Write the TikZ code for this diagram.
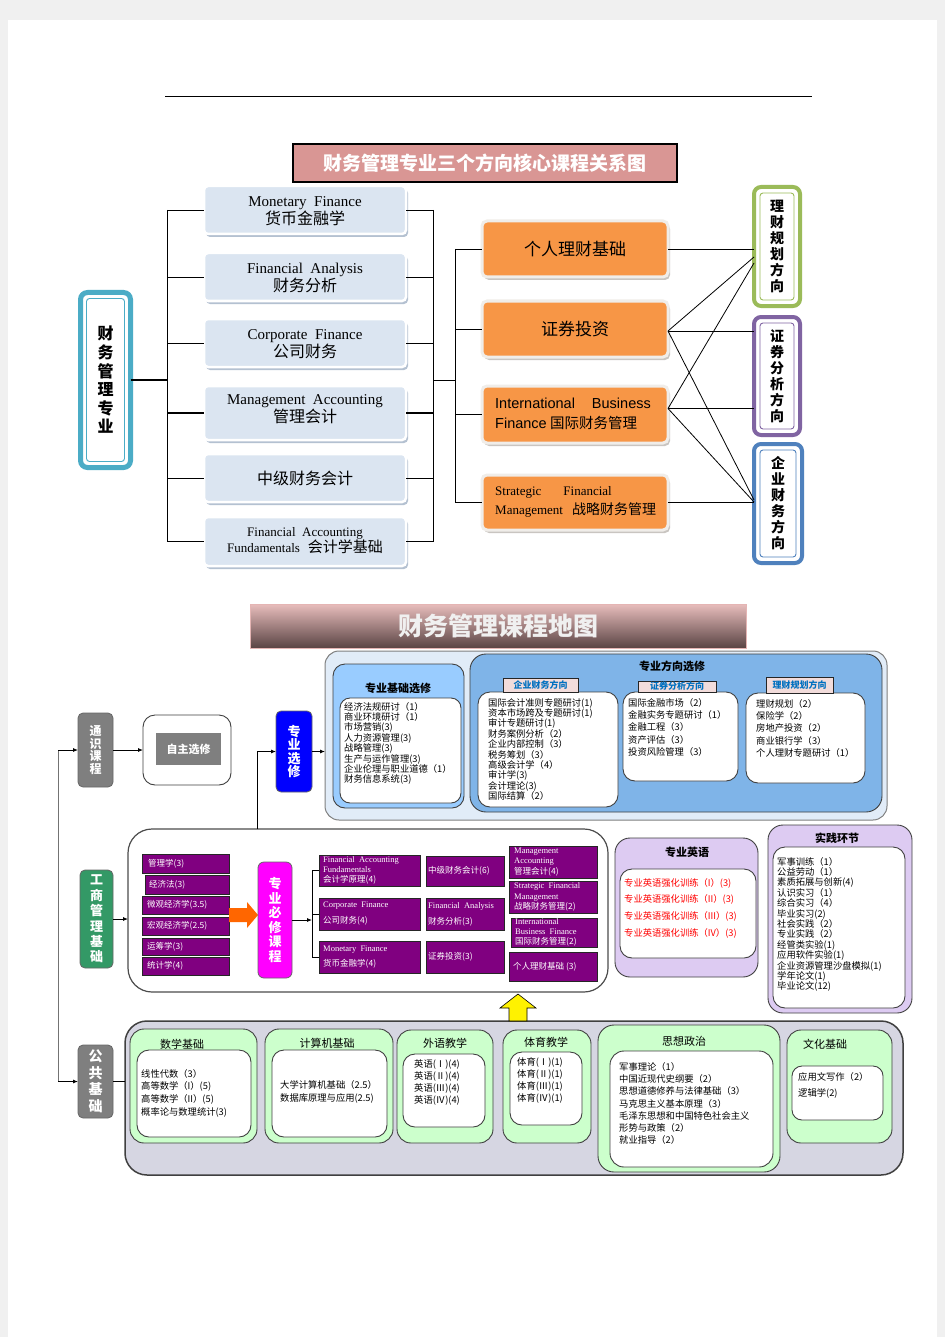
\documentclass[tikz,border=0pt]{standalone}
\usepackage{fontspec}
\setmainfont{Noto Sans CJK SC}
\newfontfamily\en{Liberation Serif}
\newfontfamily\ens{Liberation Sans}
\usetikzlibrary{fit,arrows.meta,calc}
\definecolor{pagegray}{HTML}{F0F0F0}
\definecolor{titlepink}{HTML}{D99694}
\definecolor{boxblue}{HTML}{DBE5F1}
\definecolor{boxblueshadow}{HTML}{B4C1D1}
\definecolor{orangebox}{HTML}{F79646}
\definecolor{orangeedge}{HTML}{F0EDE9}
\definecolor{orangeshadow}{HTML}{C9C5C1}
\definecolor{tealc}{HTML}{4BACC6}
\definecolor{greenc}{HTML}{9BBB59}
\definecolor{purplec}{HTML}{8064A2}
\definecolor{bluec}{HTML}{4F81BD}
\definecolor{ttop}{HTML}{E8BDBC}
\definecolor{tbot}{HTML}{5A4444}
\definecolor{skyregion}{HTML}{E1ECF8}
\definecolor{basesel}{HTML}{99CCFF}
\definecolor{dirsel}{HTML}{7FB4E8}
\definecolor{tabpink}{HTML}{F2DCDB}
\definecolor{tabblue}{HTML}{0070C0}
\definecolor{gbox}{HTML}{7F7F7F}
\definecolor{bluesel}{HTML}{0000FF}
\definecolor{gsgreen}{HTML}{339966}
\definecolor{purpleb}{HTML}{800080}
\definecolor{magentab}{HTML}{FF00FF}
\definecolor{arroworange}{HTML}{FF6600}
\definecolor{lavender}{HTML}{DDCBF2}
\definecolor{lightgreen}{HTML}{CCFFCC}
\definecolor{bottomgray}{HTML}{D6D6E2}
\tikzset{
  fb/.style={inner sep=0pt, outer sep=0pt},
  tx/.style={inner sep=0pt, align=center},
  conn/.style={draw=black, line width=0.8pt},
  arr/.style={conn, -{Latex[length=5pt,width=4pt]}},
  midbox/.style={fb, rounded corners=4pt, fill=boxblue, draw=white, line width=2.5pt,
    preaction={fill=boxblueshadow, transform canvas={xshift=2pt,yshift=-3pt}}},
  orbox/.style={fb, rounded corners=5pt, fill=orangebox, draw=orangeedge, line width=3pt,
    preaction={fill=orangeshadow, transform canvas={xshift=2pt,yshift=-3pt}}},
  dirbox/.style={fb, rounded corners=7pt, fill=white, draw=#1, line width=4pt},
  dirtext/.style={tx, font=\fontsize{14}{16}\selectfont\bfseries},
  vbox/.style={fb, rounded corners=5pt, fill=#1, draw=black!60, line width=0.8pt},
  vtext/.style 2 args={tx, text=white, font=\fontsize{#1}{#2}\selectfont\bfseries},
  rbox/.style={fb, rounded corners=#1, draw=black!75, line width=0.9pt},
  lst/.style={anchor=north west, align=left, inner sep=0pt, font=\fontsize{9.3}{#1}\selectfont},
  lst/.default=10.4,
  hd/.style={inner sep=0pt, font=\fontsize{11}{12}\selectfont\bfseries},
  hdn/.style={inner sep=0pt, font=\fontsize{11}{12}\selectfont},
  pbox/.style={fb, fill=purpleb, draw=black!85, line width=0.6pt},
  ptext/.style={anchor=west, align=left, inner sep=0pt, text=white, font=\fontsize{8.5}{#1}\selectfont},
  ptext/.default=10.3,
  tab/.style={fb, fill=tabpink, draw=black!85, line width=0.8pt},
  tabtext/.style={inner sep=0pt, text=tabblue, font=\fontsize{9}{10}\selectfont\bfseries},
}
\begin{document}
\begin{tikzpicture}[x=1pt,y=-1pt]
\useasboundingbox (0,0) rectangle (945,1337);
\fill[pagegray] (0,0) rectangle (945,1337);
\fill[white] (8,20) rectangle (937,1337);
\draw[line width=0.7pt] (165,96) -- (812,96);

% ---------- part 1 ----------
\node[fb, fit={(293,144) (677,182)}, fill=titlepink, draw=black, line width=1.2pt] (t1) {};
\node[tx, text=white, font=\fontsize{19}{21}\selectfont\bfseries] (t1l) at (t1.center) {财务管理专业三个方向核心课程关系图};

\node[fb, fit={(80.5,292.5) (130.5,467.5)}, rounded corners=7pt, fill=white, draw=tealc, line width=5pt] (fm) {};
\draw[tealc, line width=0.9pt, rounded corners=3pt] ($(fm.north west)+(6,6)$) rectangle ($(fm.south east)+(-6,-6)$);
\node[tx, font=\fontsize{16}{18.6}\selectfont\bfseries] (fml) at (fm.center) {财\\务\\管\\理\\专\\业};

\node[midbox, fit={(204,186) (406,234)}] (m1) {};
\node[midbox, fit={(204,253) (406,301)}] (m2) {};
\node[midbox, fit={(204,319) (406,367)}] (m3) {};
\node[midbox, fit={(204,386) (406,440)}] (m4) {};
\node[midbox, fit={(204,454) (406,502)}] (m5) {};
\node[midbox, fit={(204,517) (406,566)}] (m6) {};
\node[tx, font=\fontsize{16}{14}\selectfont] (m1l) at ([yshift=-1pt]m1.center)
  {{\en\fontsize{15}{14}\selectfont Monetary\ \ Finance}\\货币金融学};
\node[tx, font=\fontsize{16}{14}\selectfont] (m2l) at ([yshift=-1pt]m2.center)
  {{\en\fontsize{15}{14}\selectfont Financial\ \ Analysis}\\财务分析};
\node[tx, font=\fontsize{16}{14}\selectfont] (m3l) at ([yshift=-1pt]m3.center)
  {{\en\fontsize{15}{14}\selectfont Corporate\ \ Finance}\\公司财务};
\node[tx, font=\fontsize{16}{14}\selectfont] (m4l) at ([yshift=4pt]m4.center)
  {{\en\fontsize{15}{14}\selectfont Management\ \ Accounting}\\管理会计};
\node[tx, font=\fontsize{16}{18}\selectfont] (m5l) at (m5.center) {中级财务会计};
\node[tx, font=\fontsize{15}{16}\selectfont] (m6l) at ([yshift=1pt]m6.center)
  {{\en\fontsize{13}{16}\selectfont Financial\ \ Accounting}\\{\en\fontsize{13}{16}\selectfont Fundamentals}\hspace{8pt}会计学基础};

\coordinate (lb) at (167,0);
\coordinate (rb) at (433,0);
\coordinate (rb2) at (455,0);
\draw[conn, line width=1.6pt] (fm.east) -- (fm.east -| lb);
\draw[conn] (lb |- m1.west) -- (lb |- m6.west);
\draw[conn] (rb |- m1.east) -- (rb |- m6.east);
\foreach \m in {m1,m2,m3,m5,m6}{
  \draw[conn] (lb |- \m.west) -- (\m.west);
  \draw[conn] (\m.east) -- (rb |- \m.east);
}
\draw[conn, line width=1.8pt] (lb |- m4.west) -- (m4.west);
\draw[conn, line width=1.8pt] (m4.east) -- (rb |- m4.east);

\node[orbox, fit={(482,221) (668,277)}] (o1) {};
\node[orbox, fit={(482,301) (668,357)}] (o2) {};
\node[orbox, fit={(482,386) (668,443)}] (o3) {};
\node[orbox, fit={(482,475) (668,530)}] (o4) {};
\node[tx, font=\fontsize{17}{19}\selectfont] (o1l) at (o1.center) {个人理财基础};
\node[tx, font=\fontsize{17}{19}\selectfont] (o2l) at (o2.center) {证券投资};
\node[anchor=west, align=left, inner sep=0pt, font=\fontsize{14.5}{19.5}\selectfont] (o3l) at (495,414)
  {{\ens International\hspace{17pt}Business}\\{\ens Finance} 国际财务管理};
\node[anchor=west, align=left, inner sep=0pt, font=\fontsize{14}{19}\selectfont] (o4l) at (495,502)
  {{\en\fontsize{13}{19}\selectfont Strategic\hspace{22pt}Financial}\\{\en\fontsize{13}{19}\selectfont Management}\hspace{9pt}战略财务管理};

\draw[conn] (rb |- fm.east) -- (rb2 |- fm.east);
\draw[conn] (rb2 |- o1.west) -- (rb2 |- o4.west);
\foreach \o in {o1,o2,o3,o4}{
  \draw[conn] (rb2 |- \o.west) -- (\o.west);
}

\node[dirbox=greenc, fit={(754,187) (800,306)}] (d1) {};
\node[dirbox=purplec, fit={(754,317) (800,435)}] (d2) {};
\node[dirbox=bluec, fit={(754,444) (802,563)}] (d3) {};
\draw[greenc, line width=0.9pt, rounded corners=3pt] ($(d1.north west)+(6,6)$) rectangle ($(d1.south east)+(-6,-6)$);
\draw[purplec, line width=0.9pt, rounded corners=3pt] ($(d2.north west)+(6,6)$) rectangle ($(d2.south east)+(-6,-6)$);
\draw[bluec, line width=0.9pt, rounded corners=3pt] ($(d3.north west)+(6,6)$) rectangle ($(d3.south east)+(-6,-6)$);
\node[dirtext] (d1l) at (d1.center) {理\\财\\规\\划\\方\\向};
\node[dirtext] (d2l) at (d2.center) {证\\券\\分\\析\\方\\向};
\node[dirtext] (d3l) at (d3.center) {企\\业\\财\\务\\方\\向};

\coordinate (p2) at ([yshift=-2pt]o2.east);
\coordinate (p3) at ([yshift=6pt]o3.east);
\draw[conn] (o1.east) -- (o1.east -| d1.west);
\draw[conn] (p2) -- (d1.west |- 0,257);
\draw[conn] (p2) -- (p2 -| d2.west);
\draw[conn] (p2) -- (d3.west |- 0,500);
\draw[conn] (p3) -- (d1.west |- 0,263);
\draw[conn] (p3) -- (p3 -| d2.west);
\draw[conn] (p3) -- (d3.west |- 0,502);
\draw[conn] (o4.east) -- (o4.east -| d3.west);

% ---------- part 2 ----------
\node[fb, fit={(250,604) (746,648)}, top color=ttop, bottom color=tbot, draw=titlepink!70, line width=0.5pt] (t2) {};
\node[tx, text=white!94!black, font=\fontsize{25}{27}\selectfont\bfseries] (t2l) at (t2.center) {财务管理课程地图};

% professional electives region
\node[fb, fit={(325,651) (887,820)}, rounded corners=14pt, fill=skyregion, draw=black!50, line width=1pt] (zxr) {};
\node[rbox=12pt, fit={(333,664) (464,808)}, fill=basesel] (jc) {};
\node[hd] (jct) at (398,688) {专业基础选修};
\node[rbox=10pt, fit={(340,698) (461,803)}, fill=white] (jcw) {};
\node[lst] (jcl) at (344,702) {经济法规研讨（1）\\商业环境研讨（1）\\市场营销(3)\\人力资源管理(3)\\战略管理(3)\\生产与运作管理(3)\\企业伦理与职业道德（1）\\财务信息系统(3)};

\node[rbox=16pt, fit={(470,654) (882,812)}, fill=dirsel] (fx) {};
\node[hd] (fxt) at (672,666) {专业方向选修};
\node[rbox=12pt, fit={(478,692) (618,807)}, fill=white] (qyw) {};
\node[tab, fit={(503,678) (578,692)}] (tab1) {};
\node[tabtext] (tab1l) at (tab1.center) {企业财务方向};
\node[lst] (qyl) at (488,698) {国际会计准则专题研讨(1)\\资本市场跨及专题研讨(1)\\审计专题研讨(1)\\财务案例分析（2）\\企业内部控制（3）\\税务筹划（3）\\高级会计学（4）\\审计学(3)\\会计理论(3)\\国际结算（2）};
\node[rbox=12pt, fit={(623,692) (738,781)}, fill=white] (zqw) {};
\node[tab, fit={(638,681) (716,692)}] (tab2) {};
\node[tabtext] (tab2l) at (tab2.center) {证券分析方向};
\node[lst=12.3] (zql) at (628,698) {国际金融市场（2）\\金融实务专题研讨（1）\\金融工程（3）\\资产评估（3）\\投资风险管理（3）};
\node[rbox=12pt, fit={(746,693) (865,783)}, fill=white] (lcw) {};
\node[tab, fit={(766,677) (833,693)}] (tab3) {};
\node[tabtext] (tab3l) at (tab3.center) {理财规划方向};
\node[lst=12.3] (lcl) at (756,699) {理财规划（2）\\保险学（2）\\房地产投资（2）\\商业银行学（3）\\个人理财专题研讨（1）};

% left column
\node[vbox=gbox, fit={(78,713) (113,787)}] (tong) {};
\node[vtext={12}{12.7}] (tongl) at (tong.center) {通\\识\\课\\程};
\node[rbox=12pt, fit={(143,715) (231,785)}, fill=white] (zz) {};
\node[fb, fit={(156,733) (221,765)}, fill=gbox] (zzi) {};
\node[tx, text=white, font=\fontsize{11}{12}\selectfont\bfseries] (zzil) at (zzi.center) {自主选修};
\draw[arr] (tong.east) -- (zz.west);
\node[vbox=bluesel, fit={(276,711) (312,792)}] (zx) {};
\node[vtext={13}{13.3}] (zxl) at (zx.center) {专\\业\\选\\修};
\draw[arr] (zx.east) -- (zx.east -| zxr.west);

\node[vbox=gsgreen, fit={(80,870) (113,968)}] (gs) {};
\node[vtext={13}{15.4}] (gsl) at (gs.center) {工\\商\\管\\理\\基\\础};
\node[fb, fit={(128,829) (608,992)}, rounded corners=24pt, fill=white, draw=black!70, line width=1.2pt] (gsw) {};
\draw[arr] (gs.east) -- (gs.east -| gsw.west);
\coordinate (gsup) at (257,829);
\draw[arr] (gsup) |- (zx.west);

% business basics
\node[pbox, fit={(142,854) (229,873)}] (pa) {};
\node[pbox, fit={(145,875) (229,894)}] (pb) {};
\node[pbox, fit={(142,896) (229,914)}] (pc) {};
\node[pbox, fit={(142,917) (229,935)}] (pd) {};
\node[pbox, fit={(142,938) (229,955)}] (pe) {};
\node[pbox, fit={(142,957) (229,975)}] (pf) {};
\node[ptext] (pat) at ([xshift=6pt]pa.west) {管理学(3)};
\node[ptext] (pbt) at ([xshift=4pt]pb.west) {经济法(3)};
\node[ptext] (pct) at ([xshift=5pt]pc.west) {微观经济学(3.5)};
\node[ptext] (pdt) at ([xshift=5pt]pd.west) {宏观经济学(2.5)};
\node[ptext] (pet) at ([xshift=5pt]pe.west) {运筹学(3)};
\node[ptext] (pft) at ([xshift=5pt]pf.west) {统计学(4)};
\fill[arroworange] (229,908) -- (247,908) -- (247,902) -- (258,915) -- (247,928) -- (247,922) -- (229,922) -- cycle;

\node[vbox=magentab, fit={(258,862) (292,978)}, rounded corners=6pt] (bx) {};
\node[vtext={13}{14.5}] (bxl) at (bx.center) {专\\业\\必\\修\\课\\程};

\node[pbox, fit={(319,855) (420,886)}] (qa) {};
\node[pbox, fit={(319,898) (420,930)}] (qb) {};
\node[pbox, fit={(319,941) (420,973)}] (qc) {};
\node[pbox, fit={(426,856) (504,886)}] (qd) {};
\node[pbox, fit={(426,898) (504,930)}] (qe) {};
\node[pbox, fit={(426,941) (504,973)}] (qf) {};
\node[pbox, fit={(509,846) (597,878)}] (qg) {};
\node[pbox, fit={(509,881) (597,913)}] (qh) {};
\node[pbox, fit={(511,918) (597,947)}] (qi) {};
\node[pbox, fit={(509,952) (597,981)}] (qj) {};
\node[ptext=10.2] (qat) at ([xshift=4pt]qa.west) {{\en Financial\ \ Accounting}\\{\en Fundamentals}\\会计学原理(4)};
\node[ptext=16] (qbt) at ([xshift=4pt]qb.west) {{\en Corporate\ \ Finance}\\公司财务(4)};
\node[ptext=15.5] (qct) at ([xshift=4pt]qc.west) {{\en Monetary\ \ Finance}\\货币金融学(4)};
\node[ptext] (qdt) at ([xshift=2pt]qd.west) {中级财务会计(6)};
\node[ptext=16] (qet) at ([xshift=2pt]qe.west) {{\en Financial\ \ Analysis}\\财务分析(3)};
\node[ptext] (qft) at ([xshift=2pt]qf.west) {证券投资(3)};
\node[ptext=10.2] (qgt) at ([xshift=5pt]qg.west) {{\en Management}\\{\en Accounting}\\管理会计(4)};
\node[ptext=10.4] (qht) at ([xshift=5pt]qh.west) {{\en Strategic\ \ Financial}\\{\en Management}\\战略财务管理(2)};
\node[ptext=10.2] (qit) at ([xshift=4pt]qi.west) {{\en International}\\{\en Business\ \ Finance}\\国际财务管理(2)};
\node[ptext] (qjt) at ([xshift=4pt]qj.west) {个人理财基础\ (3)};

\coordinate (brk) at (312,0);
\draw[arr] (bx.east) -- (brk |- bx.east);
\draw[conn] (brk |- qa.west) -- (brk |- qc.west);
\foreach \q in {qa,qb,qc}{\draw[conn] (brk |- \q.west) -- (\q.west);}

% english / practice
\node[rbox=15pt, fit={(615,838) (758,977)}, fill=lavender] (yy) {};
\node[hd] (yyt) at (687,852) {专业英语};
\node[rbox=12pt, fit={(620,869) (756,958)}, fill=white] (yyw) {};
\node[lst=16.7, text=red] (yyl) at (624,878) {专业英语强化训练（I）(3)\\专业英语强化训练（II）(3)\\专业英语强化训练（III）(3)\\专业英语强化训练（IV）(3)};

\node[rbox=15pt, fit={(768,825) (912,1013)}, fill=lavender] (sj) {};
\node[hd] (sjt) at (837,838) {实践环节};
\node[rbox=12pt, fit={(773,847) (905,1008)}, fill=white] (sjw) {};
\node[lst] (sjl) at (777,857) {军事训练（1）\\公益劳动（1）\\素质拓展与创新(4)\\认识实习（1）\\综合实习（4）\\毕业实习(2)\\社会实践（2）\\专业实践（2）\\经管类实验(1)\\应用软件实验(1)\\企业资源管理沙盘模拟(1)\\学年论文(1)\\毕业论文(12)};

% public basics
\node[vbox=gbox, fit={(78,1045) (113,1118)}] (gg) {};
\node[vtext={14}{16.5}] (ggl) at (gg.center) {公\\共\\基\\础};
\node[fb, fit={(125,1021) (903,1175)}, rounded corners=22pt, fill=bottomgray, draw=black!75, line width=1.5pt] (bb) {};
\draw[conn] (gg.east) -- (gg.east -| bb.west);
\filldraw[fill=yellow, draw=black, line width=0.6pt] (509,1021) -- (509,1008) -- (500,1008) -- (518,994) -- (536,1008) -- (527,1008) -- (527,1021) -- cycle;

\coordinate (lbx) at (58,0);
\draw[conn, draw=black!55] (lbx |- tong.west) -- (lbx |- gg.west);
\draw[arr] (lbx |- tong.west) -- (tong.west);
\draw[arr] (lbx |- gg.west) -- (gg.west);

\node[rbox=14pt, fit={(130,1029) (257,1143)}, fill=lightgreen] (sx) {};
\node[hdn] (sxt) at (182,1044) {数学基础};
\node[rbox=12pt, fit={(137,1050) (251,1137)}, fill=white] (sxw) {};
\node[lst=12.7] (sxl) at (141,1069) {线性代数（3）\\高等数学（I）(5)\\高等数学（II）(5)\\概率论与数理统计(3)};

\node[rbox=14pt, fit={(265,1029) (393,1143)}, fill=lightgreen] (js) {};
\node[hdn] (jst) at (327,1043) {计算机基础};
\node[rbox=12pt, fit={(272,1050) (387,1137)}, fill=white] (jsw) {};
\node[lst=13.5] (jsl) at (280,1080) {大学计算机基础（2.5）\\数据库原理与应用(2.5)};

\node[rbox=14pt, fit={(397,1030) (493,1143)}, fill=lightgreen] (wy) {};
\node[hdn] (wyt) at (445,1043) {外语教学};
\node[rbox=12pt, fit={(403,1054) (485,1127)}, fill=white] (wyw) {};
\node[lst=12.3] (wyl) at (414,1059) {英语(Ⅰ)(4)\\英语(Ⅱ)(4)\\英语(Ⅲ)(4)\\英语(Ⅳ)(4)};

\node[rbox=14pt, fit={(503,1030) (591,1143)}, fill=lightgreen] (ty) {};
\node[hdn] (tyt) at (546,1042) {体育教学};
\node[rbox=12pt, fit={(510,1052) (582,1125)}, fill=white] (tyw) {};
\node[lst=12.3] (tyl) at (517,1057) {体育(Ⅰ)(1)\\体育(Ⅱ)(1)\\体育(Ⅲ)(1)\\体育(Ⅳ)(1)};

\node[rbox=16pt, fit={(598,1025) (780,1172)}, fill=lightgreen] (sz) {};
\node[hdn] (szt) at (684,1041) {思想政治};
\node[rbox=14pt, fit={(610,1051) (773,1167)}, fill=white] (szw) {};
\node[lst=12.3] (szl) at (619,1062) {军事理论（1）\\中国近现代史纲要（2）\\思想道德修养与法律基础（3）\\马克思主义基本原理（3）\\毛泽东思想和中国特色社会主义\\形势与政策（2）\\就业指导（2）};

\node[rbox=14pt, fit={(787,1030) (892,1143)}, fill=lightgreen] (wh) {};
\node[hdn] (wht) at (825,1044) {文化基础};
\node[rbox=10pt, fit={(792,1066) (883,1120)}, fill=white] (whw) {};
\node[lst=16] (whl) at (798,1072) {应用文写作（2）\\逻辑学(2)};
\end{tikzpicture}
\end{document}
